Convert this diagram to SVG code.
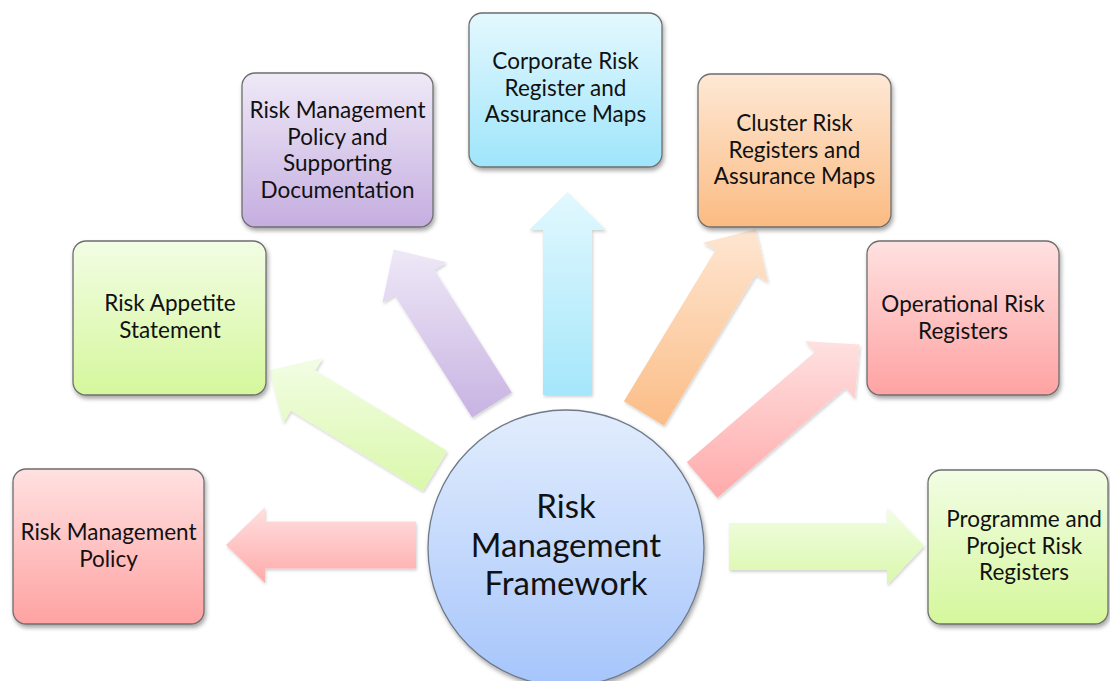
<svg xmlns="http://www.w3.org/2000/svg" width="1110" height="681" viewBox="0 0 1110 681">
  <style>
    .box { stroke: #6e6e6e; stroke-width: 1.3; filter: url(#shadow); }
    .arrow { filter: url(#ashadow); }
    .label { font-family: Lato, "Open Sans", "Liberation Sans", sans-serif; font-size: 22.5px; fill: #111; text-anchor: middle; }
    .hub { font-family: Lato, "Open Sans", "Liberation Sans", sans-serif; font-size: 33px; fill: #111; text-anchor: middle; }
  </style>
  <defs>
    <filter id="shadow" x="-10%" y="-10%" width="125%" height="130%">
      <feDropShadow dx="1.5" dy="3" stdDeviation="2.2" flood-color="#000" flood-opacity="0.35"/>
    </filter>
    <filter id="ashadow" x="-10%" y="-10%" width="125%" height="130%">
      <feDropShadow dx="1" dy="2" stdDeviation="1.8" flood-color="#000" flood-opacity="0.18"/>
    </filter>
    <linearGradient id="gRed" x1="0" y1="0" x2="0" y2="1">
      <stop offset="0" stop-color="#ffe1e1"/>
      <stop offset="1" stop-color="#ffa2a2"/>
    </linearGradient>
    <linearGradient id="gGreen" x1="0" y1="0" x2="0" y2="1">
      <stop offset="0" stop-color="#f2fde4"/>
      <stop offset="1" stop-color="#d5f79c"/>
    </linearGradient>
    <linearGradient id="gPurple" x1="0" y1="0" x2="0" y2="1">
      <stop offset="0" stop-color="#efe9f7"/>
      <stop offset="1" stop-color="#c5aee0"/>
    </linearGradient>
    <linearGradient id="gCyan" x1="0" y1="0" x2="0" y2="1">
      <stop offset="0" stop-color="#e4f8fe"/>
      <stop offset="1" stop-color="#9fe5fb"/>
    </linearGradient>
    <linearGradient id="gOrange" x1="0" y1="0" x2="0" y2="1">
      <stop offset="0" stop-color="#fee8d5"/>
      <stop offset="1" stop-color="#fbbb82"/>
    </linearGradient>
    <linearGradient id="gBlue" x1="0" y1="0" x2="0" y2="1">
      <stop offset="0" stop-color="#e2edfd"/>
      <stop offset="1" stop-color="#a6c5fb"/>
    </linearGradient>
    <!-- arrow fills: lighter than the boxes -->
    <linearGradient id="aRed" x1="0" y1="0" x2="0" y2="1">
      <stop offset="0" stop-color="#ffe0e0"/>
      <stop offset="1" stop-color="#ffaaaa"/>
    </linearGradient>
    <linearGradient id="aGreen" x1="0" y1="0" x2="0" y2="1">
      <stop offset="0" stop-color="#f2fde4"/>
      <stop offset="1" stop-color="#daf8ab"/>
    </linearGradient>
    <linearGradient id="aPurple" x1="0" y1="0" x2="0" y2="1">
      <stop offset="0" stop-color="#eee8f7"/>
      <stop offset="1" stop-color="#c8b3e2"/>
    </linearGradient>
    <linearGradient id="aCyan" x1="0" y1="0" x2="0" y2="1">
      <stop offset="0" stop-color="#e2f8fe"/>
      <stop offset="1" stop-color="#a5e7fb"/>
    </linearGradient>
    <linearGradient id="aOrange" x1="0" y1="0" x2="0" y2="1">
      <stop offset="0" stop-color="#fee6d2"/>
      <stop offset="1" stop-color="#fbbd86"/>
    </linearGradient>
  </defs>

  <rect width="1110" height="681" fill="#ffffff"/>

  <!-- block arrows radiating from the hub -->
  <g id="connectors">
    <polygon class="arrow" fill="url(#aRed)" points="416,521.5 265,521.5 265,507 226,545 265,583 265,568.5 416,568.5"/>
    <polygon class="arrow" fill="url(#aGreen)" points="447.2,450.9 315.2,370.4 322.8,358.1 269.7,370.2 283.2,422.9 290.8,410.6 422.8,491.1"/>
    <polygon class="arrow" fill="url(#aPurple)" points="511.9,392.4 434.4,270 446.6,262.2 393.7,249.5 382.4,302.8 394.6,295.1 472.1,417.6"/>
    <polygon class="arrow" fill="url(#aCyan)" points="543,395 543,230 529,230 567.5,192 606,230 592,230 592,395"/>
    <polygon class="arrow" fill="url(#aOrange)" points="664.1,425.7 755.6,274.7 768,282.2 755.7,229.2 703,242.8 715.4,250.3 623.9,401.3"/>
    <polygon class="arrow" fill="url(#aRed)" points="717.3,497.8 845.3,387.8 854.8,398.8 859.6,344.6 805.2,341.2 814.7,352.2 686.7,462.2"/>
    <polygon class="arrow" fill="url(#aGreen)" points="729,523 887,523 887,508 924,546 887,585 887,570 729,570"/>
  </g>

  <g id="node-policy">
    <rect class="box" x="13" y="469" width="191" height="155" rx="13" fill="url(#gRed)"/>
    <text class="label" x="108.5" y="540">Risk Management</text>
    <text class="label" x="108.5" y="567">Policy</text>
  </g>

  <g id="node-appetite">
    <rect class="box" x="73" y="241" width="193" height="154" rx="13" fill="url(#gGreen)"/>
    <text class="label" x="170" y="311">Risk Appetite</text>
    <text class="label" x="170" y="338">Statement</text>
  </g>

  <g id="node-policy-docs">
    <rect class="box" x="242" y="73" width="191" height="154" rx="13" fill="url(#gPurple)"/>
    <text class="label" x="337.5" y="118">Risk Management</text>
    <text class="label" x="337.5" y="144.5">Policy and</text>
    <text class="label" x="337.5" y="171">Supporting</text>
    <text class="label" x="337.5" y="197.5">Documentation</text>
  </g>

  <g id="node-corporate">
    <rect class="box" x="469" y="13" width="193" height="154" rx="13" fill="url(#gCyan)"/>
    <text class="label" x="565.5" y="69">Corporate Risk</text>
    <text class="label" x="565.5" y="95.5">Register and</text>
    <text class="label" x="565.5" y="122">Assurance Maps</text>
  </g>

  <g id="node-cluster">
    <rect class="box" x="698" y="74" width="193" height="153" rx="13" fill="url(#gOrange)"/>
    <text class="label" x="794.5" y="131">Cluster Risk</text>
    <text class="label" x="794.5" y="157.5">Registers and</text>
    <text class="label" x="794.5" y="184">Assurance Maps</text>
  </g>

  <g id="node-operational">
    <rect class="box" x="867" y="241" width="192" height="154" rx="13" fill="url(#gRed)"/>
    <text class="label" x="963" y="312">Operational Risk</text>
    <text class="label" x="963" y="338.5">Registers</text>
  </g>

  <g id="node-programme">
    <rect class="box" x="928" y="470" width="180" height="154" rx="13" fill="url(#gGreen)"/>
    <text class="label" x="1024" y="527">Programme and</text>
    <text class="label" x="1024" y="553.5">Project Risk</text>
    <text class="label" x="1024" y="580">Registers</text>
  </g>

  <g id="node-framework">
    <circle cx="566" cy="548" r="138" fill="url(#gBlue)" stroke="#6f7a8a" stroke-width="1.3" filter="url(#shadow)"/>
    <text class="hub" x="566" y="518">Risk</text>
    <text class="hub" x="566" y="557">Management</text>
    <text class="hub" x="566" y="595">Framework</text>
  </g>
</svg>
